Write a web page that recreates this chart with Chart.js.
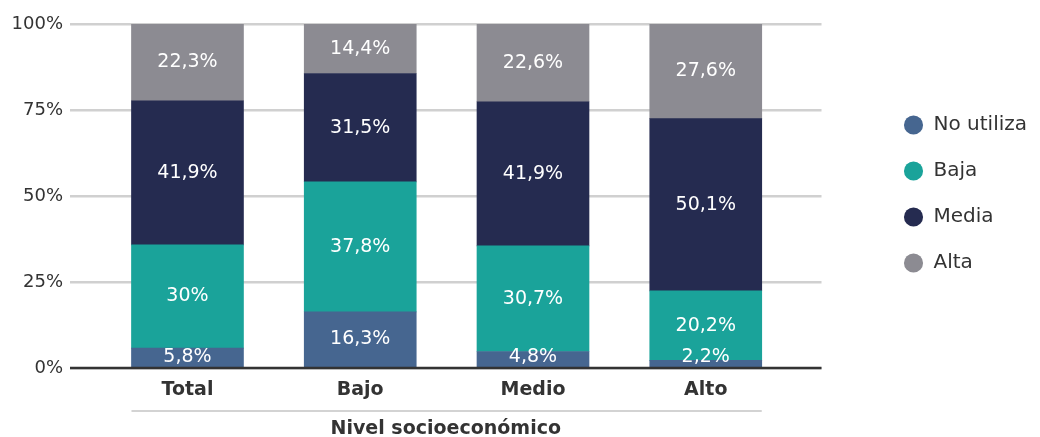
<!DOCTYPE html>
<html>
<head>
<meta charset="utf-8">
<script src="https://cdn.jsdelivr.net/npm/chart.js@4.4.1/dist/chart.umd.min.js"></script>
<style>
  body { margin: 0; background: #fff; }
  #wrap { width: 1040px; height: 437px; }
</style>
</head>
<body>
<div id="wrap"><canvas id="grafico"></canvas></div>
<script>
// datos
const categorias = ['Total', 'Bajo', 'Medio', 'Alto'];
const noUtiliza = [5.8, 16.3, 4.8, 2.2];
const baja = [30, 37.8, 30.7, 20.2];
const media = [41.9, 31.5, 41.9, 50.1];
const alta = [22.3, 14.4, 22.6, 27.6];
const ticksY = [0, 25, 50, 75, 100];

const fuente = "'DejaVu Sans', sans-serif";

function puntos(arr) {
    return arr.map((v, i) => ({ x: i, y: v }));
}

// etiquetas blancas dentro de cada segmento
const etiquetas = {
    id: 'etiquetas',
    afterDatasetsDraw(chart) {
        const ctx = chart.ctx;
        const base = chart.scales.y.getPixelForValue(0);
        ctx.save();
        ctx.fillStyle = '#ffffff';
        ctx.font = '19px ' + fuente;
        ctx.textAlign = 'center';
        ctx.textBaseline = 'middle';
        chart.data.datasets.forEach((ds, di) => {
            chart.getDatasetMeta(di).data.forEach((bar, i) => {
                let y = (bar.y + bar.base) / 2;
                if (y > base - 11) y = base - 11;
                ctx.fillText(String(ds.data[i].y).replace('.', ',') + '%', bar.x, y);
            });
        });
        ctx.restore();
    }
};

// linea gris bajo las categorias
const lineaTitulo = {
    id: 'lineaTitulo',
    afterDraw(chart) {
        const ctx = chart.ctx;
        const meta = chart.getDatasetMeta(0);
        const primero = meta.data[0], ultimo = meta.data[meta.data.length - 1];
        ctx.save();
        ctx.strokeStyle = '#d3d3d3';
        ctx.lineWidth = 2;
        ctx.beginPath();
        ctx.moveTo(primero.x - primero.width / 2, 411);
        ctx.lineTo(ultimo.x + ultimo.width / 2, 411);
        ctx.stroke();
        ctx.restore();
    }
};

// linea negra del eje en 0%
const ejeBase = {
    id: 'ejeBase',
    afterDatasetsDraw(chart) {
        const a = chart.chartArea;
        const y = chart.scales.y.getPixelForValue(0);
        chart.ctx.save();
        chart.ctx.strokeStyle = '#333';
        chart.ctx.lineWidth = 2.5;
        chart.ctx.beginPath();
        chart.ctx.moveTo(a.left, y);
        chart.ctx.lineTo(a.right, y);
        chart.ctx.stroke();
        chart.ctx.restore();
    }
};

const ctx = document.getElementById('grafico').getContext('2d');
new Chart(ctx, {
    type: 'bar',
    data: {
        datasets: [
            { label: 'No utiliza', data: puntos(noUtiliza), backgroundColor: '#466690' },
            { label: 'Baja', data: puntos(baja), backgroundColor: '#1aa39a' },
            { label: 'Media', data: puntos(media), backgroundColor: '#252b50' },
            { label: 'Alta', data: puntos(alta), backgroundColor: '#8c8b92' }
        ]
    },
    options: {
        responsive: true,
        maintainAspectRatio: false,
        animation: false,
        barThickness: 112,
        layout: { padding: { top: 24, right: 3, bottom: 0, left: 0 } },
        plugins: {
            legend: {
                position: 'right',
                align: 'start',
                title: {
                    display: true,
                    text: '',
                    font: { size: 10 },
                    padding: { top: 53, bottom: 0 }
                },
                labels: {
                    usePointStyle: true,
                    pointStyle: 'circle',
                    boxWidth: 20,
                    boxHeight: 13.5,
                    padding: 26,
                    color: '#333',
                    font: { family: fuente, size: 20 }
                }
            },
            tooltip: { enabled: false }
        },
        scales: {
            x: {
                type: 'linear',
                stacked: true,
                offset: false,
                min: -0.68,
                max: 3.67,
                afterBuildTicks: axis => { axis.ticks = categorias.map((c, i) => ({ value: i })); },
                afterFit: axis => { axis.height = 69; },
                grid: { display: false, drawTicks: false },
                border: { display: false },
                ticks: {
                    padding: 11,
                    color: '#333',
                    font: { family: fuente, size: 19, weight: 'bold' },
                    callback: v => categorias[v]
                },
                title: {
                    display: true,
                    text: 'Nivel socioeconómico',
                    color: '#333',
                    font: { family: fuente, size: 19, weight: 'bold' },
                    padding: { top: 12, bottom: -3 }
                }
            },
            y: {
                stacked: true,
                min: 0,
                max: 100,
                afterBuildTicks: axis => { axis.ticks = ticksY.map(v => ({ value: v })); },
                afterFit: axis => { axis.width = 70; },
                grid: {
                    color: '#d0d0d0',
                    lineWidth: 2.5,
                    drawTicks: false
                },
                border: { display: false },
                ticks: {
                    padding: 7,
                    color: '#333',
                    font: { family: fuente, size: 18 },
                    callback: v => v + '%'
                }
            },
            // eje vacío que separa la leyenda del gráfico
            hueco: {
                type: 'linear',
                position: 'right',
                afterFit: axis => { axis.width = 56; },
                grid: { display: false, drawTicks: false },
                border: { display: false },
                ticks: { display: false }
            }
        }
    },
    plugins: [etiquetas, lineaTitulo, ejeBase]
});
</script>
</body>
</html>
